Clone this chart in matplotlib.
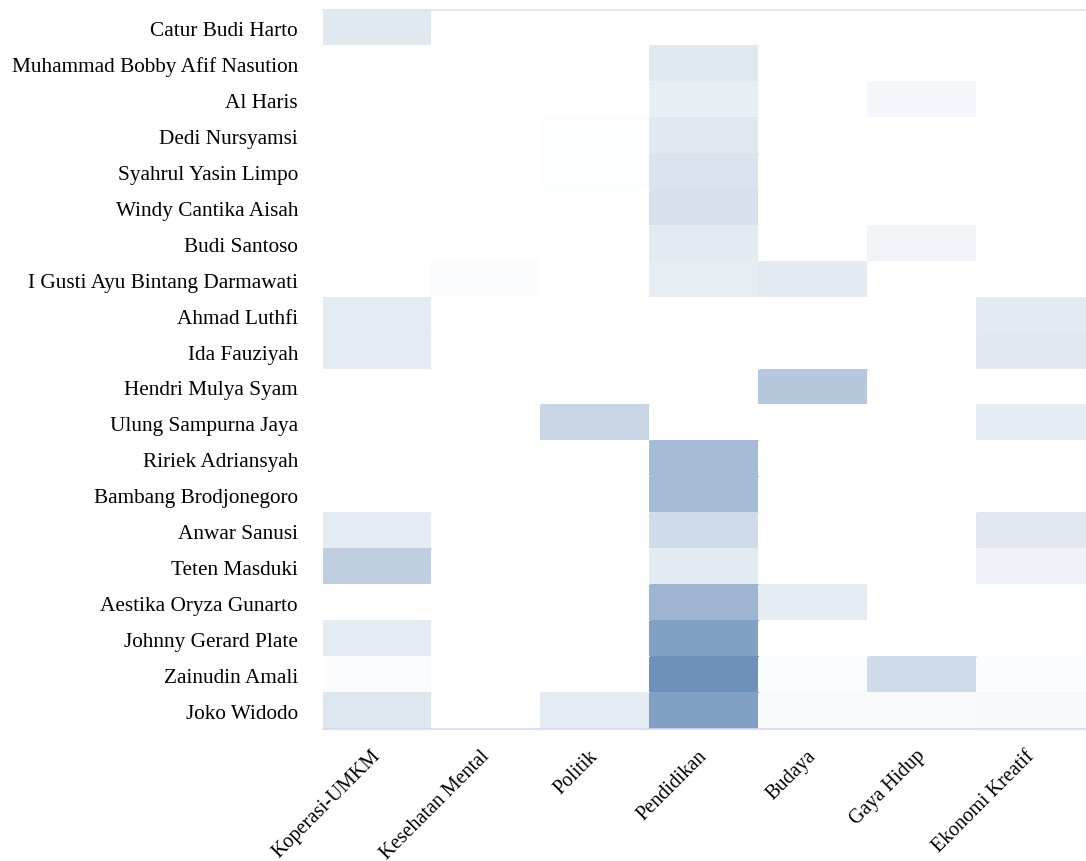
import matplotlib
matplotlib.use("Agg")
import matplotlib.pyplot as plt
import numpy as np
from matplotlib.colors import LinearSegmentedColormap

people = ["Catur Budi Harto", "Muhammad Bobby Afif Nasution", "Al Haris", "Dedi Nursyamsi",
          "Syahrul Yasin Limpo", "Windy Cantika Aisah", "Budi Santoso",
          "I Gusti Ayu Bintang Darmawati", "Ahmad Luthfi", "Ida Fauziyah", "Hendri Mulya Syam",
          "Ulung Sampurna Jaya", "Ririek Adriansyah", "Bambang Brodjonegoro", "Anwar Sanusi",
          "Teten Masduki", "Aestika Oryza Gunarto", "Johnny Gerard Plate", "Zainudin Amali",
          "Joko Widodo"]
topics = ["Koperasi-UMKM", "Kesehatan Mental", "Politik", "Pendidikan", "Budaya",
          "Gaya Hidup", "Ekonomi Kreatif"]

koperasi  = [0.21, 0, 0, 0, 0, 0, 0, 0, 0.18, 0.18, 0.01, 0, 0, 0, 0.18, 0.43, 0, 0.18, 0.03, 0.22]
kesehatan = [0, 0, 0, 0, 0, 0, 0.01, 0.03, 0, 0, 0, 0, 0, 0, 0, 0, 0, 0, 0, 0.01]
politik   = [0, 0, 0, 0.02, 0.02, 0, 0, 0, 0, 0, 0, 0.36, 0, 0, 0, 0, 0.01, 0, 0, 0.18]
pendidik  = [0, 0.21, 0.15, 0.20, 0.24, 0.27, 0.19, 0.16, 0.01, 0.01, 0, 0, 0.60, 0.60, 0.32, 0.19, 0.66, 0.84, 0.97, 0.84]
budaya    = [0, 0, 0, 0, 0, 0, 0, 0.19, 0, 0, 0.49, 0, 0, 0, 0, 0, 0.17, 0, 0.03, 0.05]
gaya      = [0, 0, 0.08, 0, 0, 0, 0.10, 0, 0, 0, 0, 0, 0, 0.01, 0, 0, 0, 0, 0.32, 0.05]
ekonomi   = [0, 0, 0, 0, 0, 0, 0, 0, 0.19, 0.20, 0, 0.17, 0, 0, 0.20, 0.11, 0, 0, 0.03, 0.06]

data = np.array([koperasi, kesehatan, politik, pendidik, budaya, gaya, ekonomi]).T

plt.rcParams['font.family'] = ['Liberation Serif', 'DejaVu Serif']
fig = plt.figure(figsize=(10.86, 8.62), dpi=100)
ax = fig.add_axes([323/1086, 1 - 730/862, 1 - 323/1086, (730 - 11)/862])
cmap = LinearSegmentedColormap.from_list("bl", ["#ffffff", "#6a8eb9"])
ax.pcolormesh(np.arange(len(topics) + 1), np.arange(len(people) + 1), data,
              cmap=cmap, vmin=0, vmax=1, edgecolor='face', linewidth=0.3)
ax.set_xlim(0, len(topics))
ax.set_ylim(len(people), 0)
ax.set_yticks(np.arange(len(people)) + 0.5)
ax.set_yticklabels(people, fontsize=15.3)
ax.set_xticks(np.arange(len(topics)) + 0.5)
ax.set_xticklabels(topics, fontsize=14.5, rotation=45, ha='right', va='center',
                   rotation_mode='anchor')
ax.tick_params(axis='y', length=0, pad=18)
ax.tick_params(axis='x', length=0, pad=17)
for s in ['left', 'right']:
    ax.spines[s].set_visible(False)
ax.spines['top'].set_color('#e4e4e4')
ax.spines['top'].set_linewidth(1.2)
ax.spines['bottom'].set_color('#d3dcee')
ax.spines['bottom'].set_linewidth(1.2)
fig.savefig("out.png", dpi=100)
